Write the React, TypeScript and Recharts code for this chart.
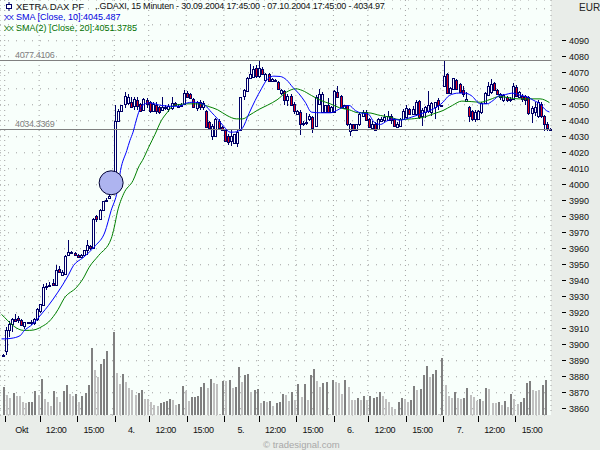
import React from "react";
import { ComposedChart, Bar, Line, XAxis, YAxis, CartesianGrid, ReferenceLine, ReferenceDot } from "recharts";

// open, high, low, close per 15-minute bar, first row is the opening marker, last the closing marker
const ohlc: number[][] = [
  [3893.6,3894,3893.2,3893.6],
  [3896.2,3911,3893.6,3909],[3909,3915,3905,3913],[3913,3917,3908,3916],[3916,3919,3914,3915],[3917,3918,3913.5,3915.2],
  [3915.2,3916,3911.8,3912.3],[3912,3914.5,3910,3914.2],[3913.5,3914.5,3913,3914],[3914,3915.5,3912.5,3914.2],[3913.5,3917,3912.5,3916.2],
  [3916,3923,3915,3922.5],[3921.4,3925.6,3920,3925.2],[3925,3938.1,3924.5,3936],[3936,3938.5,3934,3937],[3937.2,3939.5,3936.5,3937.5],
  [3938.5,3941,3936.5,3937.5],[3937.5,3949.6,3937,3946.9],[3947.5,3949,3945,3945.4],[3943.7,3947,3943,3945.4],[3944.4,3956,3944,3955.6],
  [3955.8,3965.2,3955.5,3957.9],[3957.6,3958.5,3957,3957.9],[3957.3,3958,3955.5,3956],[3956,3956.5,3954,3954.8],[3954.8,3956.5,3954.2,3956],
  [3956,3959.5,3955.5,3959],[3959,3965.2,3955.8,3962.5],[3961.7,3962.5,3959,3960.4],[3960.4,3979,3960,3978.7],[3980.4,3981,3976.5,3978.7],
  [3978.7,3984.6,3978,3984.4],[3984.4,3990,3984,3989.6],[3990.4,3992,3989,3990.6],[3991.6,3995.4,3991,3993.3],[],
  [4005.2,4049.6,4005.2,4039.8],[4039.8,4047.5,4039,4046.4],[4046,4050,4045.5,4049.6],[4050.6,4057.9,4048,4055.2],[4051,4057,4050,4054.8],
  [4051.6,4055,4048,4048.5],[4049,4055,4047,4053.7],[4053,4055,4047,4049],[4050.6,4051,4045.5,4046],[4046.9,4054.2,4046,4053.7],
  [4052.7,4054.5,4048,4050.2],[4051.6,4052.5,4045,4046],[4046,4052,4045.5,4050.6],[4049.6,4052,4044.5,4046],[4048.5,4049,4044,4045.4],
  [4047,4055,4046,4048.5],[4048,4050,4046.5,4048.9],[4047.5,4050.5,4045.5,4049.5],[4048.1,4054.8,4047,4051],[4051,4052,4049,4049.6],
  [4048.5,4050.5,4048,4049.5],[4049,4051,4048.5,4050],[4050.6,4059,4050,4057.3],[4057.3,4058.5,4054,4054.8],[4056.8,4057.5,4053.5,4054.4],
  [4053.7,4054,4048,4048.5],[4048,4052.5,4046,4051.6],[4051.6,4053,4047,4048.5],[4048.5,4052.5,4047,4051],[4046.4,4047,4035.5,4036],
  [4039,4040,4034.5,4035.6],[4030.8,4038,4027.7,4037],[4030.8,4042,4030,4041.2],[4040,4041,4035,4035.6],[4036.4,4037,4033.5,4034],
  [4034,4034.5,4027,4027.3],[4030.8,4031.5,4025,4026.6],[4027.3,4034,4024.5,4030.8],[4026,4032,4025.5,4031.8],[4026,4035,4023.5,4033],
  [4034,4055,4033.5,4054.8],[4055.2,4060,4053,4059],[4058.5,4067.5,4058,4066.9],[4066.9,4075.6,4066.5,4069.4],[4067.3,4074,4067,4072.5],
  [4073.1,4075,4067,4067.7],[4068,4078.1,4067,4073],[4072.5,4073.5,4068.5,4069],[4065.6,4070,4065,4069],[4069,4070,4064.5,4064.8],
  [4064.8,4067,4064,4066.2],[4065,4066,4064,4065.2],[4064.2,4065,4059.5,4060],[4057.3,4060,4056,4059],[4058.5,4059.5,4050,4052.7],
  [4052.7,4057,4049,4055.8],[4055.8,4056.5,4049,4049.6],[4050.6,4051.5,4044,4046.4],[4044.5,4046.5,4044,4046],[4045.8,4046.5,4031.4,4038.1],
  [4038,4040,4037,4038.5],[4038.5,4045,4037.5,4039],[4041,4044,4040,4043],[4042.3,4043,4032.3,4035.6],[4037,4056,4036,4054.8],
  [4050.6,4060,4050,4056.9],[4045.4,4058,4045,4056.9],[4045.8,4050,4045,4049.6],[4049.6,4054,4045,4045.8],[4045.4,4049,4045,4048.5],
  [4045.4,4059,4045,4058.5],[4057.9,4062,4054,4054.8],[4055.2,4056,4048,4048.5],[4048.1,4050,4047.5,4049.6],[4049.6,4050,4036.5,4037.7],
  [4033.9,4038.5,4030.4,4038.1],[4037.7,4038,4033.5,4034.3],[4034.3,4038,4034,4037.7],[4037.7,4045,4037,4044.4],[4043.3,4047,4042.5,4045.4],
  [4045.4,4047,4040,4040.6],[4041.2,4042,4035.5,4036],[4035.6,4040,4035,4037.7],[4038.1,4039,4033.9,4034.3],[4035,4042,4034.5,4041.2],
  [4040,4042.5,4039.5,4041.2],[4040.2,4044,4039,4042.3],[4040.2,4046,4040,4043.3],[4042.9,4044,4038,4040.8],[4041.2,4042,4036,4037],
  [4036.4,4039,4035.5,4038.1],[4037,4042,4036,4041.2],[4041.2,4047.5,4040.5,4046.4],[4042.3,4050,4041.5,4048],[4047.5,4048,4043.5,4044.4],
  [4044.4,4049,4044,4047.5],[4044.4,4053,4043,4051.6],[4052.3,4053,4041,4042.3],[4043.3,4048,4037,4046.9],[4045.4,4049.5,4042,4048.5],
  [4046,4058.5,4045,4050],[4045.4,4052,4043,4051],[4048.5,4052,4041.2,4051.6],[4053,4054,4047,4049.6],[4049.6,4050,4049.5,4049.9],
  [4062,4077.1,4061.5,4068.3],[4069.4,4070,4057,4057.3],[4057.3,4061,4056.5,4060.6],[4060,4067,4059,4066.6],[4065.6,4066,4059.5,4060],
  [4063,4063.5,4057.5,4058],[4059,4062,4055,4057],[4052.5,4058,4052,4053.5],[4048.5,4049.5,4039,4042.7],[4046.4,4047,4040,4041.2],
  [4041.2,4046.5,4039,4045.4],[4041.2,4047,4040.5,4046],[4045.4,4052,4044.5,4051],[4051,4058,4050.5,4057.3],[4056.4,4064,4055.5,4062],
  [4058,4066,4057,4063],[4063.5,4064,4058.5,4059.3],[4059.3,4060,4056,4056.9],[4054.8,4057.5,4053,4056.9],[4052.7,4057,4052,4056.2],
  [4054.8,4055.5,4051.5,4052.7],[4052.7,4055,4051.5,4053.7],[4053.7,4063.5,4053,4062],[4061.4,4062.5,4055,4055.8],[4054.8,4058.5,4054,4057.9],
  [4055.8,4056.5,4052,4053.7],[4055.2,4056,4050,4052.7],[4054.8,4055.5,4043.5,4044.8],[4044.8,4049,4038.5,4048.1],[4045.4,4052,4043,4048.5],
  [4043.3,4053,4042,4051.6],[4050.6,4051.5,4041.5,4042.7],[4042.7,4043.5,4033.9,4038.1],[4038.1,4039.5,4033.9,4035.6],
  [4034.97,4035.3,4034.7,4034.97],
];

// bar heights of the volume pane, one per session bar
const volumes = [
  28,20,17,22,19,19,13,12,13,13,24,20,36,16,13,9,24,18,13,24,30,21,19,21,13,19,22,30,67,45,38,51,56,64,1,
  83,42,31,41,33,27,25,20,22,25,16,16,13,10,9,12,13,14,16,15,10,11,29,24,14,18,18,19,28,32,27,36,32,31,1,
  34,34,35,27,28,48,33,40,41,23,25,26,12,14,13,14,9,12,13,21,20,14,23,15,31,18,31,15,40,46,34,28,32,33,1,
  35,33,32,21,35,28,15,15,17,15,19,15,19,17,18,23,19,16,13,8,6,13,17,16,13,15,29,25,26,40,49,38,41,45,1,
  57,30,19,17,23,17,16,17,27,20,18,14,16,14,27,26,12,12,13,10,14,8,21,16,11,13,17,32,34,25,24,25,30,35,
];
const volumeShade = [
  "dlldlllldd","dldllldlld","dlldlddddl","ldddldlldl","lllddlllll","ddddllddll","dddddldlll","dldlddlddl","ddldldlddd",
  "lldldldldd","llddldllld","llldldlddd","dlllllddll","ddldddlddl","dllldllddl","lldldllldl","dldllddddl","lldd",
].join("");

// [bar index, value]
const sma10Points: number[][] = [
  [-1,3903.7],[0,3903.7],[2,3904],[5,3905.8],[6,3908.3],[9,3913],[12,3919.8],[14,3924.6],[17,3932.9],[20,3942.3],[22,3949.6],[25,3954.4],[27,3957.9],[29,3962],[32,3970.4],[34,3983.9],[36,3996.4],[37,4008.9],[39,4021.4],
  [40,4027.7],[41,4032.9],[42,4040.2],[43,4046.4],[44,4049.5],[46,4051.2],[50,4049.6],[54,4049],[56,4049.2],[58,4051],[60,4051.6],[62,4051.2],[64,4049.6],[66,4045.4],[68,4041.2],[70,4036.4],[72,4032.9],[73,4032.9],[75,4033.9],[76,4035.6],[78,4044.4],[80,4052.7],[82,4060],[84,4066.2],
  [86,4067.9],[88,4067.7],[90,4065.6],[92,4061],[94,4056.9],[96,4051.6],[98,4045.4],[101,4045],[104,4045],[106,4046.4],[108,4048.5],[110,4049.6],[112,4046.4],[114,4044.8],[116,4044.4],[118,4039.2],[120,4037.7],[122,4039.8],[124,4041.2],[126,4040.4],[130,4042.3],
  [133,4044.4],[137,4047.5],[140,4051.6],[142,4055.8],[145,4057.3],[147,4057.3],[149,4055.8],[152,4050.6],[154,4050.6],[156,4052.7],[158,4055.8],[160,4056.4],[162,4057.3],[165,4055.8],[167,4054.8],[169,4052.7],[171,4050.6],[173,4046.4],[174,4045.5],
];
const sma20Points: number[][] = [
  [-1,3919],[0,3917],[1,3915],[3,3911.5],[6,3909],[8,3909],[10,3909.6],[12,3911.5],[14,3914.2],[17,3921.9],[19,3929],[23,3936],[25,3941.2],[27,3948.5],[30,3955.8],[34,3966.2],[35,3973.5],[36,3983],[38,3994.4],[41,4002.7],[43,4012],[44,4015.2],[46,4023.5],[48,4031.5],[50,4040],[52,4045.4],[54,4049.6],[56,4050.2],[58,4050.6],[62,4050.6],[65,4049],[68,4046.9],[71,4043.3],[74,4041.2],[76,4041.2],[78,4043.3],[81,4046.9],[84,4049.8],[87,4053.1],[90,4057.9],[93,4060],[95,4059],[98,4055.8],[101,4052.7],[104,4050.6],[107,4048.1],[110,4046.9],[113,4045],[116,4045],[120,4043.3],[123,4042.3],[126,4040.8],[130,4041.2],[134,4042.3],[137,4044.4],[140,4046.4],[143,4049.6],[146,4052.3],[149,4052],[152,4051.6],[155,4053.3],[158,4055.2],[161,4054.4],[164,4053.7],[168,4053.7],[171,4053.7],[174,4051.38],
];

const tickIdx = [0,11,23,35,46,58,70,81,93,105,116,128,140,151,163];
const tickLabels = ["Okt","12:00","15:00","4.","12:00","15:00","5.","12:00","15:00","6.","12:00","15:00","7.","12:00","15:00"];
const priceTicks = [3860,3870,3880,3890,3900,3910,3920,3930,3940,3950,3960,3970,3980,3990,4000,4010,4020,4030,4040,4050,4060,4070,4080,4090,4100,4110];
const lastLabelledPrice = 4090;
const levelHigh = 4077.4106;
const levelLow = 4034.3369;

const pointValue = (points: number[][], idx: number) => {
  const hit = points.find((p) => p[0] === idx);
  return hit ? hit[1] : null;
};

const rows = ohlc.map((r, k) => {
  const idx = k - 1;
  const vol = volumes[idx];
  return {
    idx,
    open: r[0], high: r[1], low: r[2], close: r[3],
    range: r.length ? [r[2], r[1]] : null,
    volume: vol === undefined ? null : vol,
    shade: volumeShade[idx],
    sma10: pointValue(sma10Points, idx),
    sma20: pointValue(sma20Points, idx),
  };
});

const NAVY = "#000066";
const FONT = "'Liberation Sans', Arial, sans-serif";

const Candle = (props: any) => {
  const { x, y, width, height, payload } = props;
  if (payload.high === undefined) return null;
  const top = Math.min(y, y + height);
  const h = Math.abs(height);
  const span = payload.high - payload.low;
  const yOf = (p: number) => top + ((payload.high - p) / span) * h;
  const cx = Math.floor(x + width / 2) + 0.5;
  const up = payload.close >= payload.open;
  const y1 = Math.round(yOf(Math.max(payload.open, payload.close))) + 0.5;
  const y2 = Math.round(yOf(Math.min(payload.open, payload.close))) + 0.5;
  return (
    <g shapeRendering="crispEdges">
      <line x1={cx} x2={cx} y1={top} y2={top + h} stroke={NAVY} strokeWidth={1} />
      <rect x={cx - 1} y={y1} width={2} height={Math.max(y2 - y1, 1)} fill={up ? "#FFFFFF" : "#E00018"} stroke={NAVY} strokeWidth={1} />
    </g>
  );
};

const VolumeBar = (props: any) => {
  const { x, y, height, payload } = props;
  return (
    <rect x={Math.round(x)} y={y} width={2} height={height} fill={payload.shade === "d" ? "#808080" : "#C0C0C0"} shapeRendering="crispEdges" />
  );
};

const TimeTick = (props: any) => {
  const { x, y, payload } = props;
  const at = tickIdx.indexOf(payload.value);
  return (
    <g>
      <line x1={x + 1} x2={x + 1} y1={y - 7} y2={y - 1} stroke="#000" strokeWidth={1} shapeRendering="crispEdges" />
      <text x={x + 17} y={y + 10} textAnchor="middle" fontSize={9} letterSpacing={-0.4} fontFamily={FONT} fill="#111">{tickLabels[at]}</text>
    </g>
  );
};

const PriceTick = (props: any) => {
  const { x, y, payload } = props;
  if (payload.value > lastLabelledPrice) return null;
  return (
    <g>
      <line x1={x + 3} x2={x + 7} y1={y} y2={y} stroke="#000" strokeWidth={1} shapeRendering="crispEdges" />
      <text x={x + 10} y={y + 3} textAnchor="start" fontSize={9} fontFamily={FONT} fill="#111">{payload.value}</text>
    </g>
  );
};

const label = (left: number, top: number, color: string, size = 9, spacing = 0): React.CSSProperties => ({
  position: "absolute", left, top, color, fontSize: size, letterSpacing: spacing, fontFamily: FONT, whiteSpace: "pre", lineHeight: "11px",
});

export default function App() {
  return (
    <div style={{ position: "absolute", left: 0, top: 0, width: 600, height: 450, background: "#E9EDE9", overflow: "hidden" }}>
      <ComposedChart width={600} height={450} data={rows} margin={{ top: 0, right: 0, bottom: 0, left: 0 }} barCategoryGap={0} barGap={0}>
        <CartesianGrid yAxisId="price" vertical={false} stroke="#A0A0A0" strokeDasharray="1 7" fill="#F8FFFB" fillOpacity={1} />
        <CartesianGrid yAxisId="price" horizontal={false} stroke="#A0A0A0" strokeDasharray="1 4" />
        <XAxis dataKey="idx" type="category" ticks={tickIdx} interval={0} axisLine={false} tickLine={false} tick={<TimeTick />} height={35} />
        <YAxis yAxisId="price" orientation="right" type="number" domain={[3856.1, 4115.5]} ticks={priceTicks} interval={0} allowDataOverflow axisLine={false} tickLine={false} tick={<PriceTick />} width={49} />
        <YAxis yAxisId="vol" hide type="number" domain={[0, 415]} />
        <ReferenceLine yAxisId="price" y={levelHigh} stroke="#808080" strokeWidth={1} shapeRendering="crispEdges" />
        <ReferenceLine yAxisId="price" y={levelLow} stroke="#808080" strokeWidth={1} shapeRendering="crispEdges" />
        <ReferenceDot yAxisId="price" x={34} y={4001.25} r={12} fill="#AEB4F0" fillOpacity={1} stroke="#000033" strokeWidth={1} />
        <Bar yAxisId="vol" dataKey="volume" shape={<VolumeBar />} isAnimationActive={false} />
        <Bar yAxisId="price" dataKey="range" shape={<Candle />} isAnimationActive={false} />
        <Line yAxisId="price" dataKey="sma20" type="monotone" connectNulls dot={false} activeDot={false} stroke="#008000" strokeWidth={1} isAnimationActive={false} />
        <Line yAxisId="price" dataKey="sma10" type="monotone" connectNulls dot={false} activeDot={false} stroke="#0000FF" strokeWidth={1} isAnimationActive={false} />
      </ComposedChart>

      <svg style={{ position: "absolute", left: 5, top: 2 }} width={8} height={9}>
        <line x1={4} x2={4} y1={0} y2={9} stroke={NAVY} />
        <rect x={1.5} y={2.5} width={5} height={4} fill="#fff" stroke={NAVY} />
      </svg>
      <div style={label(16, 1, "#111", 9.5)}>XETRA DAX PF</div>
      <div style={label(95, 1, "#111", 9, -0.2)}>{",.GDAXI, 15 Minuten - 30.09.2004 17:45:00 - 07.10.2004 17:45:00 - 4034.97"}</div>
      <div style={label(4, 12, "#0000E0", 8, -0.8)}>XX</div>
      <div style={label(16, 12, "#0000E0")}>{"SMA [Close, 10]:4045.487"}</div>
      <div style={label(4, 23, "#007000", 8, -0.8)}>XX</div>
      <div style={label(16, 23, "#007000")}>{"SMA(2) [Close, 20]:4051.3785"}</div>
      <div style={label(15, 50, "#808080", 9, -0.35)}>{levelHigh}</div>
      <div style={label(15, 119, "#808080", 9, -0.35)}>{levelLow}</div>
      <div style={label(579, 2, "#222", 10)}>EUR</div>
      <div style={label(263, 439, "#A8A8A8", 9.5)}>{"© tradesignal.com"}</div>
    </div>
  );
}
